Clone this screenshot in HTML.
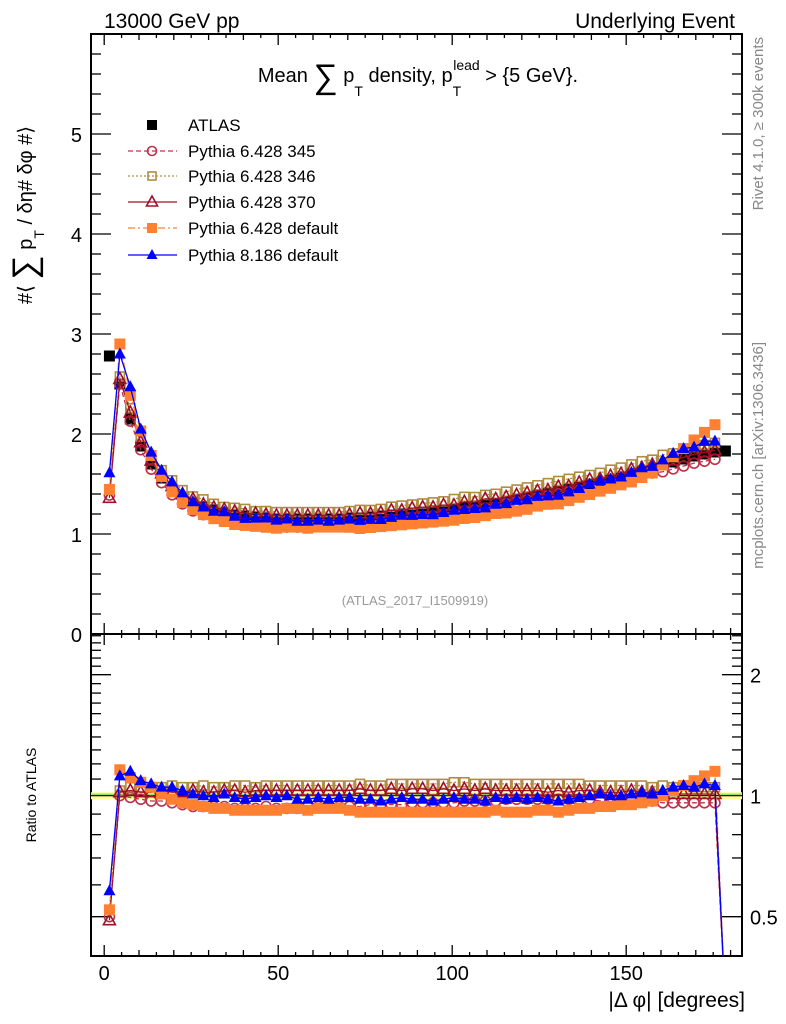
<!DOCTYPE html>
<html><head><meta charset="utf-8"><style>
body{margin:0;background:#fff;}
svg{display:block;font-family:"Liberation Sans",sans-serif;}
</style></head><body>
<svg id="c" width="786" height="1024" viewBox="0 0 786 1024" xmlns="http://www.w3.org/2000/svg">
<defs>
<clipPath id="cm"><rect x="91" y="34" width="651" height="600"/></clipPath>
<clipPath id="cr"><rect x="91" y="634" width="651" height="322"/></clipPath>
</defs>
<text x="104" y="28" font-size="21">13000 GeV pp</text>
<text x="735" y="28" font-size="21" text-anchor="end">Underlying Event</text>
<text x="418" y="82" font-size="20" text-anchor="middle">Mean <tspan font-size="34" dy="6">∑</tspan><tspan dy="-6"> p</tspan><tspan font-size="14" dy="14">T</tspan><tspan dy="-14"> density, p</tspan><tspan font-size="14" dy="14">T</tspan><tspan font-size="14" dy="-26" dx="-8">lead</tspan><tspan dy="12"> &gt; {5 GeV}.</tspan></text>
<text transform="translate(32,215) rotate(-90)" font-size="20" text-anchor="middle">#⟨ <tspan font-size="34" dy="4">∑</tspan><tspan dy="-4"> p</tspan><tspan font-size="14" dy="12">T</tspan><tspan dy="-12">  / δη# δφ #⟩</tspan></text>
<text transform="translate(36,795) rotate(-90)" font-size="14" text-anchor="middle">Ratio to ATLAS</text>
<text transform="translate(763,37) rotate(-90)" font-size="15" fill="#888" text-anchor="end">Rivet 4.1.0, ≥ 300k events</text>
<text transform="translate(763,342) rotate(-90)" font-size="15" fill="#888" text-anchor="end">mcplots.cern.ch [arXiv:1306.3436]</text>
<text x="415" y="605" font-size="13" fill="#999" text-anchor="middle">(ATLAS_2017_I1509919)</text>
<text x="745" y="1007" font-size="21" text-anchor="end">|Δ φ| [degrees]</text>
<g id="axes"></g>
<g id="mainMarks" clip-path="url(#cm)"></g>
<g id="ratioMarks" clip-path="url(#cr)"></g>
<g id="legend"></g>
</svg>
<script>
const binCenters = [];
for (let i = 0; i < 60; i++) binCenters.push(1.5 + 3 * i);
const atlas = [2.78,2.50,2.15,1.88,1.70,1.56,1.45,1.37,1.31,1.27,1.24,1.21,1.19,1.18,1.17,1.16,1.15,1.15,1.15,1.15,1.15,1.15,1.15,1.16,1.16,1.17,1.18,1.19,1.20,1.21,1.22,1.23,1.24,1.25,1.27,1.28,1.30,1.31,1.33,1.35,1.37,1.39,1.41,1.43,1.45,1.47,1.50,1.52,1.55,1.57,1.60,1.63,1.66,1.69,1.72,1.75,1.78,1.80,1.82,1.83];
const ratioP8 = [0.58,1.12,1.15,1.09,1.07,1.05,1.05,1.03,1.01,1.00,0.99,1.01,0.99,0.98,0.99,1.00,0.99,1.00,0.98,0.98,0.99,0.98,0.99,0.99,0.98,0.98,0.97,0.98,0.99,0.98,0.98,0.97,0.98,0.99,0.98,0.98,0.97,0.99,0.98,0.99,0.98,0.99,0.98,0.97,0.98,0.99,1.00,1.01,1.00,1.00,1.01,1.02,1.01,1.03,1.05,1.06,1.05,1.07,1.06];
const ratioP6def = [0.52,1.16,1.11,1.08,1.05,1.01,0.98,0.96,0.95,0.94,0.93,0.93,0.92,0.92,0.92,0.92,0.92,0.93,0.93,0.92,0.93,0.93,0.93,0.92,0.91,0.91,0.91,0.91,0.91,0.91,0.91,0.91,0.91,0.91,0.91,0.91,0.91,0.92,0.91,0.91,0.91,0.92,0.92,0.91,0.92,0.93,0.93,0.94,0.94,0.95,0.95,0.96,0.97,1.00,1.03,1.06,1.09,1.12,1.15];
const ratio346 = [0.52,1.03,1.05,1.05,1.05,1.05,1.06,1.05,1.05,1.06,1.05,1.05,1.06,1.06,1.05,1.06,1.06,1.06,1.06,1.06,1.06,1.06,1.06,1.06,1.07,1.06,1.06,1.07,1.07,1.07,1.07,1.07,1.07,1.08,1.08,1.07,1.07,1.07,1.07,1.07,1.07,1.07,1.07,1.07,1.07,1.07,1.06,1.06,1.06,1.06,1.06,1.06,1.05,1.06,1.05,1.06,1.05,1.05,1.05];
const ratio370 = [0.49,1.02,1.03,1.02,1.02,1.03,1.02,1.02,1.03,1.02,1.02,1.03,1.03,1.02,1.03,1.03,1.03,1.03,1.03,1.03,1.03,1.03,1.03,1.03,1.04,1.03,1.03,1.04,1.03,1.04,1.04,1.03,1.04,1.03,1.04,1.03,1.04,1.03,1.03,1.03,1.03,1.03,1.02,1.03,1.02,1.03,1.03,1.02,1.02,1.02,1.03,1.02,1.02,1.02,1.01,1.01,1.01,1.01,1.01];
const ratio345 = [0.50,1.00,0.99,0.98,0.97,0.97,0.96,0.95,0.94,0.94,0.94,0.94,0.93,0.93,0.93,0.94,0.93,0.93,0.93,0.94,0.94,0.94,0.94,0.94,0.94,0.95,0.95,0.95,0.95,0.96,0.96,0.96,0.96,0.96,0.97,0.97,0.97,0.97,0.98,0.98,0.98,0.98,0.98,0.98,0.98,0.98,0.98,0.97,0.97,0.97,0.97,0.97,0.97,0.96,0.96,0.96,0.96,0.96,0.96];
const xTicks = [0,50,100,150];
const yMainTicks = [0,1,2,3,4,5];
const yRatioTicks = [0.5,1,2];
const legendLabels = ["ATLAS","Pythia 6.428 345","Pythia 6.428 346","Pythia 6.428 370","Pythia 6.428 default","Pythia 8.186 default"];

const NS = "http://www.w3.org/2000/svg";
const X0=104.2, XS=3.48, FL=91, FR=742, MT=34, MB=634, RT=634, RB=956;
function xp(d){return X0+XS*d;}
function ym(v){return 634-100*v;}
function yr(r){return 795.7-121*Math.log2(r);}
function mk(tag, attrs, parent){const e=document.createElementNS(NS,tag);for(const k in attrs)e.setAttribute(k,attrs[k]);parent.appendChild(e);return e;}

const axes=document.getElementById('axes');
let f1=mk('rect',{x:FL,y:MT,width:FR-FL,height:MB-MT,fill:'none',stroke:'#000','stroke-width':2},axes);


let f2=mk('rect',{x:FL,y:RT,width:FR-FL,height:RB-RT,fill:'none',stroke:'#000','stroke-width':2},axes);


for(let d=0; d<=180; d+=5){
  const x=xp(d); const L = d%50===0?11:(d%10===0?6:4);
  for(const [yb,dir] of [[MB,-1],[MT,1],[RB,-1],[RT,1]]){
    mk('line',{x1:x,x2:x,y1:yb,y2:yb+dir*L,stroke:'#000','stroke-width':1.3},axes);
  }
}
xTicks.forEach(t=>{
  const tl=mk('text',{x:xp(t),y:980,'font-size':20,'text-anchor':'middle'},axes);
  tl.textContent=t;
  
  
});
for(let v=0; v<=6.001; v+=0.2){
  const y=ym(v); const major=Math.abs(v-Math.round(v))<1e-6; const L=major?20:10;
  mk('line',{x1:FL,x2:FL+L,y1:y,y2:y,stroke:'#000','stroke-width':1.3},axes);
  mk('line',{x1:FR,x2:FR-L,y1:y,y2:y,stroke:'#000','stroke-width':1.3},axes);
}
yMainTicks.forEach(t=>{
  const tl=mk('text',{x:82,y:ym(t)+8,'font-size':20,'text-anchor':'end'},axes);
  tl.textContent=t;
  
  
});
const rt=[0.4,0.5,0.6,0.7,0.8,0.9,1,1.1,1.2,1.3,1.4,1.5,1.6,1.7,1.8,1.9,2,2.1,2.2,2.3,2.4,2.5];
rt.forEach(r=>{
  const y=yr(r); if(y<RT||y>RB)return;
  const major=(r===0.5||r===1||r===2); const L=major?20:10;
  mk('line',{x1:FL,x2:FL+L,y1:y,y2:y,stroke:'#000','stroke-width':1.3},axes);
  mk('line',{x1:FR,x2:FR-L,y1:y,y2:y,stroke:'#000','stroke-width':1.3},axes);
});
yRatioTicks.forEach(t=>{
  const tl=mk('text',{x:750,y:yr(t)+8,'font-size':20},axes);
  tl.textContent=t;
  
  
});

function marker(g,type,x,y,color,s){
  let e;
  if(type==='sq') e=mk('rect',{x:x-s,y:y-s,width:2*s,height:2*s,fill:color},g);
  else if(type==='osq') e=mk('rect',{x:x-s+1,y:y-s+1,width:2*s-2,height:2*s-2,fill:'none',stroke:color,'stroke-width':1.6},g);
  else if(type==='oc') e=mk('circle',{cx:x,cy:y,r:s-0.5,fill:'none',stroke:color,'stroke-width':1.6},g);
  else if(type==='otri') e=mk('path',{d:`M${x},${y-s-1}L${x+s+0.5},${y+s-1}L${x-s-0.5},${y+s-1}Z`,fill:'none',stroke:color,'stroke-width':1.6},g);
  else e=mk('path',{d:`M${x},${y-s-1}L${x+s+0.5},${y+s-1}L${x-s-0.5},${y+s-1}Z`,fill:color},g);
  return e;
}
const series=[
  {name:'pythia-6428-345',r:ratio345,c:'#c03048',m:'oc',dash:'5,3'},
  {name:'pythia-6428-346',r:ratio346,c:'#b08c40',m:'osq',dash:'2,2'},
  {name:'pythia-6428-370',r:ratio370,c:'#a01028',m:'otri',dash:''},
  {name:'pythia-6428-default',r:ratioP6def,c:'#ff8030',m:'sq',dash:'7,3,2,3'},
  {name:'pythia-8186-default',r:ratioP8,c:'#0000ff',m:'tri',dash:''}
];
const mg=document.getElementById('mainMarks');
const rg=document.getElementById('ratioMarks');
atlas.forEach((v,i)=>{
  const e=marker(mg,'sq',xp(binCenters[i]),ym(v),'#000',5.5);
  
  
});
const band=mk('rect',{x:FL,y:yr(1.02),width:FR-FL,height:yr(0.98)-yr(1.02),fill:'#ffff99'},rg);


mk('line',{x1:FL,x2:FR,y1:yr(1)-1.5,y2:yr(1)-1.5,stroke:'#99e066','stroke-width':1.5},rg);
const refl=mk('line',{x1:FL,x2:FR,y1:yr(1),y2:yr(1),stroke:'#000','stroke-width':1.2},rg);


series.forEach(s=>{
  const pm=[], pr=[];
  s.r.forEach((r,i)=>{pm.push(xp(binCenters[i])+','+ym(r*atlas[i]));pr.push(xp(binCenters[i])+','+yr(r));});
  pr.push(xp(binCenters[59])+','+(RB+50));
  const lm=mk('polyline',{points:pm.join(' '),fill:'none',stroke:s.c,'stroke-width':1.3,'stroke-dasharray':s.dash},mg);
  
  
  const lr=mk('polyline',{points:pr.join(' '),fill:'none',stroke:s.c,'stroke-width':1.3,'stroke-dasharray':s.dash},rg);
  
  
  s.r.forEach((r,i)=>{
    const e=marker(mg,s.m,xp(binCenters[i]),ym(r*atlas[i]),s.c,5.5);
    
    
    const e2=marker(rg,s.m,xp(binCenters[i]),yr(r),s.c,5.5);
    
    
  });
});
const lg=document.getElementById('legend');
const ly=[125,151,176,202,228,255];
const lsty=[{m:'sq',c:'#000',d:null},{m:'oc',c:'#c03048',d:'5,3'},{m:'osq',c:'#b08c40',d:'2,2'},{m:'otri',c:'#a01028',d:''},{m:'sq',c:'#ff8030',d:'7,3,2,3'},{m:'tri',c:'#0000ff',d:''}];
legendLabels.forEach((lab,i)=>{
  const g=mk('g',{},lg);
  
  
  const st=lsty[i];
  if(st.d!==null) mk('line',{x1:128,x2:177,y1:ly[i],y2:ly[i],stroke:st.c,'stroke-width':1.3,'stroke-dasharray':st.d},g);
  marker(g,st.m,152,ly[i],st.c,5);
  const t=mk('text',{x:188,y:ly[i]+6,'font-size':17},g);
  t.textContent=lab;
});
</script>
</body></html>
